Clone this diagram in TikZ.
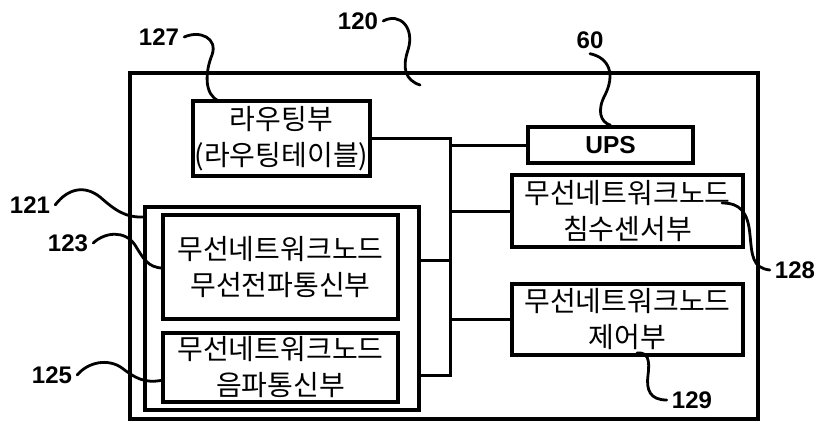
\documentclass[tikz,border=0pt]{standalone}
\usepackage{fontspec}
\usepackage{xcolor}
\usepackage{tikz}
\setmainfont{Liberation Sans}
\newfontfamily\kr{Noto Sans CJK KR}

\tikzset{
  unit/.style={draw, rectangle, line width=3.5pt, inner sep=0pt, align=center,
    font=\kr\fontsize{28}{36}\selectfont},
  wire/.style={line width=3pt},
  lead/.style={line width=2.8pt, line cap=round},
  num/.style={inner sep=5pt, font=\bfseries\fontsize{24}{24}\selectfont}
}

\begin{document}
\begin{tikzpicture}[x=1pt, y=-1pt]
            \useasboundingbox (0,0) rectangle (818,423);
            %전체 노드 외곽
            \node[unit, minimum width=628, minimum height=346] (node) at (444,246) {};
            %각 구성부
            \node[unit, minimum width=177, minimum height=75] (routing) at (281.5,138.5) {라우팅부\\(라우팅테이블)};
            \node[unit, minimum width=165, minimum height=36, font=\bfseries\fontsize{24.5}{24.5}\selectfont] (ups) at (610.5,145) {UPS};
            \node[unit, minimum width=231, minimum height=72] (sensor) at (627.5,211) {무선네트워크노드\\침수센서부};
            \node[unit, minimum width=231, minimum height=71] (ctrl) at (627.5,319.5) {무선네트워크노드\\제어부};
            \node[unit, minimum width=274, minimum height=203] (comm) at (282,308.5) {};
            \node[unit, minimum width=235, minimum height=104] (radio) at (280.5,267) {무선네트워크노드\\무선전파통신부};
            \node[unit, minimum width=235, minimum height=69] (sound) at (280.5,367.5) {무선네트워크노드\\음파통신부};
            %버스 연결선
            \coordinate (tap) at (450,260);
            \coordinate (busend) at (450,375);
            \draw[wire] (routing.east) -| (busend) -- (comm.east |- busend);
            \draw[wire] (comm.east |- tap) -- (tap);
            \draw[wire] (ups.west) -- (ups.west -| tap);
            \draw[wire] (sensor.west) -- (sensor.west -| tap);
            \draw[wire] (ctrl.west) -- (ctrl.west -| tap);
            %참조 번호
            \foreach \n/\x/\y in {120/358/21, 127/159/37, 60/590/40, 121/30/205, 123/68/243, 125/52/375, 128/795/270, 129/692/400}{\node[num] (l\n) at (\x,\y) {\n};}
            %지시선
            \coordinate (t120) at (420,85);
            \coordinate (t127) at (219,101);
            \coordinate (t121) at (145,217);
            \coordinate (t123) at (163,268);
            \coordinate (t125) at (163,380);
            \coordinate (t128) at (722,203);
            \coordinate (t129) at (637,353);
            \draw[lead] (l120.east) .. controls (400,12) and (415,28) .. (408,50) .. controls (402,68) and (405,80) .. (t120);
            \draw[lead] (l127.east) .. controls (200,30) and (218,38) .. (212,55) .. controls (205,72) and (204,95) .. (t127);
            \draw[lead] (l60.south) .. controls (610,58) and (615,75) .. (605,95) .. controls (597,110) and (600,122) .. (ups.north);
            \draw[lead] (l121.east) .. controls (68,188) and (85,185) .. (100,197) .. controls (115,210) and (125,218) .. (t121);
            \draw[lead] (l123.east) .. controls (105,232) and (125,230) .. (135,245) .. controls (143,258) and (148,268) .. (t123);
            \draw[lead] (l125.east) .. controls (88,362) and (108,358) .. (122,368) .. controls (135,378) and (145,384) .. (t125);
            \draw[lead] (l128.west) .. controls (752,268) and (752,255) .. (750,235) .. controls (748,212) and (740,203) .. (t128);
            \draw[lead] (l129.west) .. controls (650,400) and (646,390) .. (648,375) .. controls (650,360) and (648,352) .. (t129);
\end{tikzpicture}
\end{document}
